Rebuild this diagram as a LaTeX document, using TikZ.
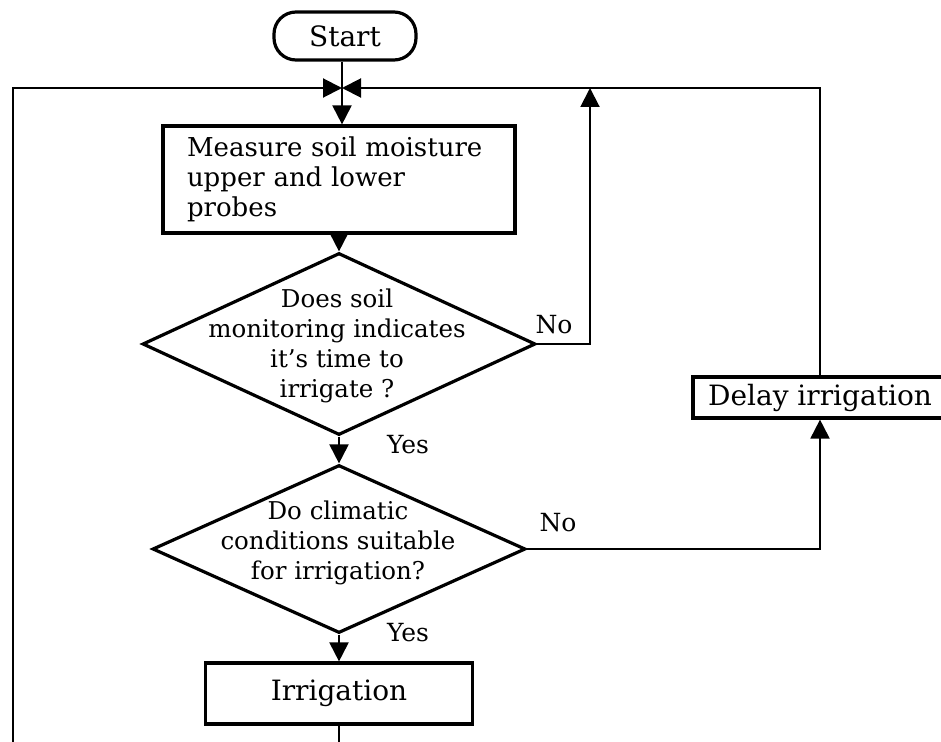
\documentclass[tikz,border=0pt]{standalone}
\usepackage{fontspec}
\setmainfont{DejaVu Serif}
\usetikzlibrary{arrows.meta,shapes.geometric}
\begin{document}
\begin{tikzpicture}[x=1pt,y=-1pt,
  box/.style={draw, line width=3.2pt, inner sep=0pt, font=\fontsize{28}{30}\selectfont},
  decision/.style={draw, diamond, line width=3.2pt, inner sep=0pt},
  txt/.style={inner sep=0pt, align=center, font=\fontsize{24.5}{30}\selectfont},
  lbl/.style={inner sep=0pt, font=\fontsize{25}{30}\selectfont},
  conn/.style={line width=2pt},
  arr/.style={conn, -{Triangle[length=19pt,width=19pt]}}]
\useasboundingbox (0,0) rectangle (941,741);
\clip (0,0) rectangle (941,741);

% process boxes
\node[box, rounded corners=22pt, minimum width=142pt, minimum height=48pt] (start) at (345,36) {Start\hspace{18pt}};
\node[box, minimum height=107pt, text width=304pt, inner xsep=24pt, align=left,
      font=\fontsize{26}{30}\selectfont] (measure) at (339,179.5)
      {Measure soil moisture\\upper and lower\\probes};
\node[box, minimum width=267pt, minimum height=61pt] (irr) at (339,693.5) {Irrigation};
\node[box, minimum width=254pt, minimum height=41pt] (delay) at (820,397.5) {Delay irrigation};

% decisions
\node[decision, minimum width=393pt, minimum height=182pt] (d1) at (339,344) {};
\node[txt] (d1t) at (337,346) {Does soil\\monitoring indicates\\it’s time to\\irrigate ?};
\node[decision, minimum width=373pt, minimum height=168pt] (d2) at (339,549) {};
\node[txt] (d2t) at (338,543) {Do climatic\\conditions suitable\\for irrigation?};

% branch labels
\node[lbl] (no1) at (554,325) {No};
\node[lbl] (no2) at (558,523) {No};
\node[lbl] (yes1) at (408,445) {Yes};
\node[lbl] (yes2) at (408,633) {Yes};

% junction and routing points
\coordinate (J) at (342,88);
\coordinate (noUp) at (590,88);
\coordinate (topR) at (820,88);
\coordinate (loopL) at (13,775);

% main flow
\draw[conn] (J |- start.south) -- (J);
\draw[arr] (J) -- (J |- measure.north);
\draw[arr] (measure.south) -- (d1.north);
\draw[arr] (d1.south) -- (d2.north);
\draw[arr] (d2.south) -- (irr.north);

% feedback paths
\draw[arr] (d1.east) -| (noUp);
\draw[arr] (d2.east) -| (delay.south);
\draw[arr] (delay.north) -- (topR) -- (J);
\draw[arr] (irr.south) |- (loopL) |- (J);
\end{tikzpicture}
\end{document}
